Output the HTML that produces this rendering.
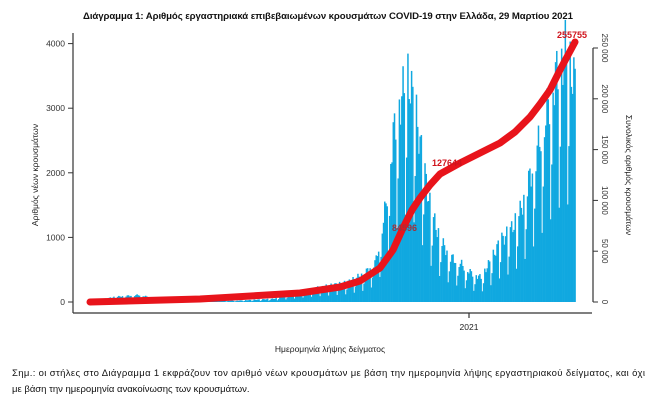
<!DOCTYPE html>
<html><head><meta charset="utf-8"><style>
body{margin:0;background:#fff;width:658px;height:409px;overflow:hidden;font-family:"Liberation Sans","DejaVu Sans",sans-serif}
svg text{font-family:"Liberation Sans","DejaVu Sans",sans-serif}
</style></head><body>
<svg id="s" width="658" height="409" xmlns="http://www.w3.org/2000/svg">
<text x="328" y="19" font-size="9.6" font-weight="bold" text-anchor="middle" fill="#111" textLength="490">Διάγραμμα 1: Αριθμός εργαστηριακά επιβεβαιωμένων κρουσμάτων COVID-19 στην Ελλάδα, 29 Μαρτίου 2021</text>
<g id="bars" fill="#10a8e0"></g>
<g stroke="#333" stroke-width="1.2" fill="none">
<line x1="73" y1="33" x2="73" y2="313"/>
<line x1="73" y1="313" x2="592" y2="313"/>
<line x1="469" y1="313" x2="469" y2="318"/>
<line x1="593" y1="48" x2="593" y2="302"/>
</g>
<g id="ticks" font-size="8.5" fill="#333"></g>
<text transform="translate(38,175) rotate(-90)" font-size="8.5" text-anchor="middle" fill="#222">Αριθμός νέων κρουσμάτων</text>
<text transform="translate(626,175) rotate(90)" font-size="8.5" text-anchor="middle" fill="#222">Συνολικός αριθμός κρουσμάτων</text>
<text x="469" y="330" font-size="8.5" text-anchor="middle" fill="#222">2021</text>
<text x="330" y="352" font-size="8.5" text-anchor="middle" fill="#222">Ημερομηνία λήψης δείγματος</text>
<path fill="none" stroke="#e8141b" stroke-width="7" stroke-linecap="round" stroke-linejoin="round" d="M90,302 L200,299 L300,293 L340,287 L360,281 L380,268 L393,250 L403,228 L412,210 L420,198 L430,185 L440,174 L460,163 L480,153 L500,143 L515,132 L530,117 L540,104 L550,90 L560,70 L568,55 L575,42"/>
<text x="557" y="38" font-size="9" font-weight="bold" fill="#d0121b">255755</text>
<text x="432" y="166" font-size="9" font-weight="bold" fill="#d0121b">127644</text>
<text x="392" y="231" font-size="9" font-weight="bold" fill="#a0303b">84596</text>
<text x="12" y="376" font-size="9.5" fill="#111" textLength="633">Σημ.: οι στήλες στο Διάγραμμα 1 εκφράζουν τον αριθμό νέων κρουσμάτων με βάση την ημερομηνία λήψης εργαστηριακού δείγματος, και όχι</text>
<text x="12" y="392" font-size="9.5" fill="#111">με βάση την ημερομηνία ανακοίνωσης των κρουσμάτων.</text>
</svg>
<script>
var ns="http://www.w3.org/2000/svg";
function el(t,a,p){var e=document.createElementNS(ns,t);for(var k in a)e.setAttribute(k,a[k]);p.appendChild(e);return e;}
var tk=document.getElementById('ticks');
for(var i=0;i<=4;i++){var y=302-i*64.6;el('line',{x1:68,y1:y,x2:73,y2:y,stroke:'#333'},tk);var t=el('text',{x:65,y:y+3,'text-anchor':'end'},tk);t.textContent=i*1000;}
for(var i=0;i<=5;i++){var y=302-i*50.8;el('line',{x1:593,y1:y,x2:598,y2:y,stroke:'#333'},tk);var t=el('text',{transform:'translate(602,'+y+') rotate(90)','text-anchor':'middle','font-size':'8'},tk);t.textContent=i==0?'0':(i*50000).toString().replace(/(\d+)(\d{3})$/,'$1 $2');}
var kp=[[0,5],[20,80],[40,110],[60,20],[120,20],[150,50],[180,200],[210,300],[225,450],[234,650],[242,1500],[248,2600],[255,3200],[260,3500],[266,3000],[272,2200],[279,1400],[287,950],[295,700],[303,600],[312,450],[320,380],[328,650],[336,950],[344,1100],[352,1400],[361,2000],[373,2900],[381,3500],[389,3900],[397,3400]];
function v(d){for(var i=1;i<kp.length;i++)if(d<=kp[i][0]){var a=kp[i-1],b=kp[i];return a[1]+(b[1]-a[1])*(d-a[0])/(b[0]-a[0]);}return 3000;}
var bars=document.getElementById('bars');
for(var d=0;d<398;d++){var w=d%7,f=(w==6?0.4:(w==0?0.65:1+0.12*Math.sin(d*1.7)));var x=90+d*1.22,h=v(d)*f*0.0646;if(h>0.3)el('rect',{x:x,y:302-h,width:1.5,height:h},bars);}
</script>
</body></html>
